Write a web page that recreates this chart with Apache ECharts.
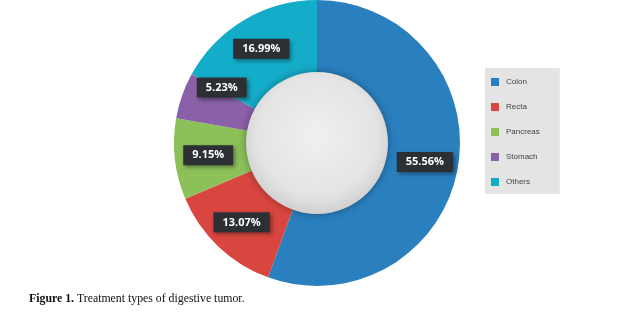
<!DOCTYPE html>
<html>
<head>
<meta charset="utf-8">
<script src="https://cdn.jsdelivr.net/npm/echarts@6/dist/echarts.min.js"></script>
<style>
html,body{margin:0;padding:0;background:#fff;}
#main{width:642px;height:312px;}
</style>
</head>
<body>
<div id="main"></div>
<script>
// data
var categories = ['Colon', 'Recta', 'Pancreas', 'Stomach', 'Others'];
var shares = [55.56, 13.07, 9.15, 5.23, 16.99];
var colors = ['#2a7fbf', '#d8463f', '#8cc15a', '#8a61a8', '#13adca'];

var chart = echarts.init(document.getElementById('main'));

var pieData = categories.map(function (name, i) {
    var d = { name: name, value: shares[i], itemStyle: { color: colors[i] } };
    // the small Stomach label sits a bit higher in the figure
    if (name === 'Stomach') d.label = { offset: [8, -19] };
    return d;
});

var option = {
    animation: false,
    title: {
        left: 29,
        top: 293,
        padding: 0,
        text: '{b|Figure 1.}{n| Treatment types of digestive tumor.}',
        textStyle: {
            fontWeight: 'normal',
            rich: {
                b: { fontFamily: 'Liberation Serif', fontWeight: 'bold', fontSize: 11.8, color: '#111' },
                n: { fontFamily: 'Liberation Serif', fontWeight: 'normal', fontSize: 11.8, color: '#111' }
            }
        }
    },
    legend: {
        orient: 'vertical',
        left: 485,
        top: 68,
        width: 72,
        padding: [10, 20, 8, 6],
        backgroundColor: '#e4e4e4',
        itemWidth: 8,
        itemHeight: 8,
        itemGap: 17,
        icon: 'rect',
        data: categories,
        textStyle: { fontFamily: 'Liberation Sans', fontSize: 8, color: '#444', padding: [0, 0, 0, 2] }
    },
    series: [
        {
            type: 'pie',
            center: [317, 143],
            radius: [70, 143],
            startAngle: 90,
            clockwise: true,
            avoidLabelOverlap: false,
            itemStyle: { borderWidth: 0 },
            label: {
                show: true,
                position: 'inside',
                formatter: function (p) { return p.value.toFixed(2) + '%'; },
                backgroundColor: '#2c3034',
                color: '#fff',
                fontFamily: 'Open Sans',
                fontWeight: 'bold',
                fontSize: 11,
                padding: [5, 9, 4, 9],
                shadowColor: 'rgba(0,0,0,0.4)',
                shadowBlur: 4,
                shadowOffsetX: 2,
                shadowOffsetY: 2
            },
            labelLine: { show: false },
            emphasis: { disabled: true },
            data: pieData
        },
        {
            type: 'pie',
            center: [317, 143],
            radius: [0, 71],
            silent: true,
            label: { show: false },
            labelLine: { show: false },
            itemStyle: {
                color: {
                    type: 'radial', x: 0.5, y: 0.45, r: 0.6,
                    colorStops: [
                        { offset: 0, color: '#f0f0f0' },
                        { offset: 0.7, color: '#e4e4e4' },
                        { offset: 1, color: '#c8c8c8' }
                    ]
                },
                shadowColor: 'rgba(0,0,0,0.35)',
                shadowBlur: 8
            },
            data: [{ name: '', value: 1 }]
        }
    ]
};

chart.setOption(option);
</script>
</body>
</html>
